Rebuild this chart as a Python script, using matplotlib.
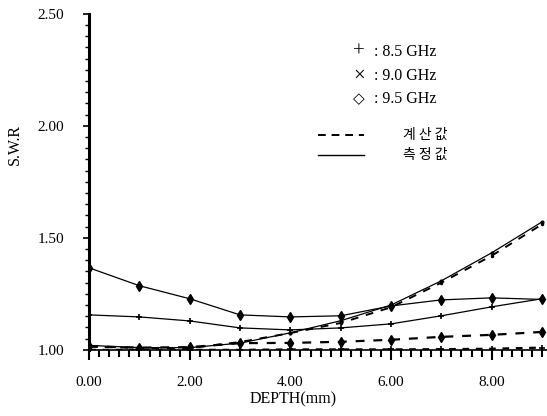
import numpy as np
import matplotlib.pyplot as plt
from matplotlib.ticker import MultipleLocator, FormatStrFormatter

plt.rcParams['font.family'] = ['Liberation Serif', 'DejaVu Sans']

depth = [0, 1, 2, 3, 4, 5, 6, 7, 8, 9]

# measured (solid)
meas_85 = [1.156, 1.147, 1.129, 1.098, 1.089, 1.098, 1.116, 1.152, 1.192, 1.228]
meas_90 = [1.020, 1.010, 1.010, 1.030, 1.076, 1.130, 1.200, 1.308, 1.433, 1.571]
meas_95 = [1.366, 1.286, 1.228, 1.156, 1.147, 1.152, 1.196, 1.223, 1.232, 1.225]

# calculated (dashed)
calc_85 = [1.000, 1.000, 1.000, 1.000, 1.002, 1.002, 1.002, 1.003, 1.005, 1.010]
calc_90 = [1.015, 1.008, 1.008, 1.035, 1.075, 1.120, 1.190, 1.300, 1.420, 1.560]
calc_95 = [1.015, 1.010, 1.012, 1.030, 1.031, 1.036, 1.045, 1.058, 1.067, 1.080]

fig = plt.figure(figsize=(5.47, 4.16), dpi=100)
ax = fig.add_axes([0.163, 0.159, 0.837, 0.808])

ax.plot(depth, meas_95, color='black', lw=0.9, marker='d', ms=5)
ax.plot(depth, meas_85, color='black', lw=0.9, marker='+', ms=5, mew=1.2)
ax.plot(depth, meas_90, color='black', lw=0.9, marker='.', ms=4)
ax.plot(depth, calc_95, color='black', lw=1.6, ls=(0, (4, 4)), marker='d', ms=5)
ax.plot(depth, calc_90, color='black', lw=1.4, ls=(0, (4, 4)), marker='.', ms=3)
ax.plot(depth, calc_85, color='black', lw=1.6, ls=(0, (3, 3)), marker='+', ms=5, mew=1.2)

ax.set_xlim(0, 9.1)
ax.set_ylim(1.0, 2.5)

ax.spines['top'].set_visible(False)
ax.spines['right'].set_visible(False)
ax.spines['left'].set_linewidth(2.2)
ax.spines['bottom'].set_linewidth(1.2)

ax.xaxis.set_major_locator(MultipleLocator(2))
ax.xaxis.set_minor_locator(MultipleLocator(0.2))
ax.yaxis.set_major_locator(MultipleLocator(0.5))
ax.yaxis.set_minor_locator(MultipleLocator(0.05))
ax.xaxis.set_major_formatter(FormatStrFormatter('%.2f'))
ax.yaxis.set_major_formatter(FormatStrFormatter('%.2f'))

ax.tick_params(axis='x', which='major', direction='out', length=7, width=1.5, pad=12, labelsize=11)
ax.tick_params(axis='x', which='minor', direction='out', length=5, width=1.5)
ax.tick_params(axis='y', which='major', direction='out', length=4, width=1.2, pad=14, labelsize=11)
ax.tick_params(axis='y', which='minor', direction='out', length=3, width=1.0)

ax.set_xlabel('DEPTH(mm)', fontsize=11.5)
ax.xaxis.set_label_coords(0.445, -0.125)
ax.set_ylabel('S.W.R', fontsize=11.5)
ax.yaxis.set_label_coords(-0.145, 0.61)

# legend written as text, like the original
lx = 0.59
symbols = [('+', '8.5 GHz', 15), ('×', '9.0 GHz', 15), ('◇', '9.5 GHz', 11)]
for i, (sym, lab, fs) in enumerate(symbols):
    yy = 0.885 - i * 0.07
    ax.text(lx, yy, sym, transform=ax.transAxes, fontsize=fs, ha='center', va='center')
    ax.text(lx + 0.033, yy, ': ' + lab, transform=ax.transAxes, fontsize=11.5, va='center')

ax.plot([0.5, 0.6], [0.64, 0.64], transform=ax.transAxes, color='black', lw=1.4, ls=(0, (4, 3)))
ax.plot([0.5, 0.6], [0.58, 0.58], transform=ax.transAxes, color='black', lw=1.0)
kr = ['Noto Sans CJK KR', 'DejaVu Sans']
ax.text(0.685, 0.64, '계 산 값', transform=ax.transAxes, fontsize=10, va='center', family=kr)
ax.text(0.685, 0.58, '측 정 값', transform=ax.transAxes, fontsize=10, va='center', family=kr)

fig.savefig('out.png', dpi=100)
